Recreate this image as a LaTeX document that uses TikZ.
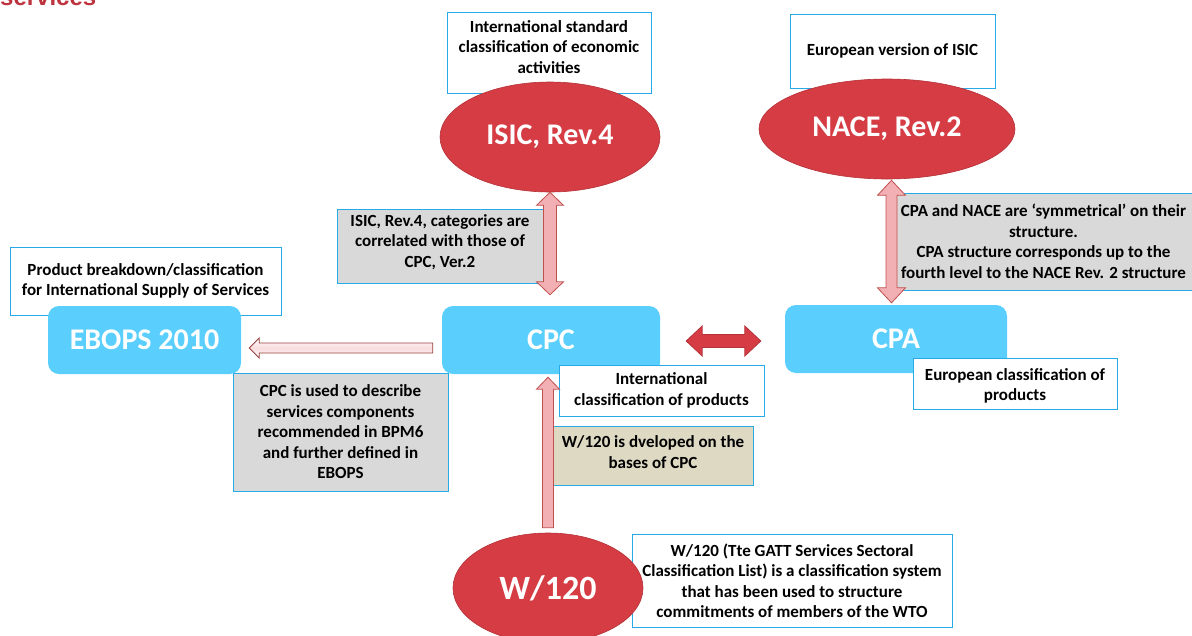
\documentclass[tikz,border=0pt]{standalone}
\usepackage{fontspec}
\setmainfont{Carlito}
\newfontfamily\headfont{Liberation Sans}
\usetikzlibrary{calc,shapes.geometric}

\definecolor{ellred}{RGB}{213,60,68}
\definecolor{ellredline}{RGB}{180,50,56}
\definecolor{cyanbox}{RGB}{90,207,253}
\definecolor{noteline}{RGB}{40,170,230}
\definecolor{notegray}{RGB}{217,217,217}
\definecolor{notetan}{RGB}{221,217,195}
\definecolor{arrowpink}{RGB}{242,176,180}
\definecolor{arrowline}{RGB}{192,80,77}
\definecolor{headred}{RGB}{190,52,62}

\tikzset{
  notefont/.style={font=\bfseries\fontsize{17}{20.5}\selectfont, align=center},
  note/.style={draw=noteline, line width=0.9pt, fill=white, inner sep=0pt, notefont},
  graynote/.style={note, fill=notegray},
  tannote/.style={note, fill=notetan},
  classbox/.style={fill=cyanbox, rounded corners=11pt, inner sep=0pt, text=white,
    font=\bfseries\fontsize{30}{36}\selectfont},
  classell/.style={ellipse, fill=ellred, draw=ellredline, line width=0.6pt, inner sep=0pt,
    text=white, font=\bfseries\fontsize{30}{36}\selectfont},
  pinkarrow/.style={fill=arrowpink, draw=arrowline, line width=0.8pt},
  redarrow/.style={fill=ellred, draw=ellredline, line width=0.8pt},
  hollowarrow/.style={draw=arrowline!80!black, line width=0.8pt,
    top color=white, bottom color=white, middle color=arrowpink!45},
}

% block arrows: #1 style, #2 first tip, #3 second tip/tail,
% #4 half shaft width, #5 half head width, #6 head length
\newcommand\vdoublearrow[6][]{%
  \draw[#1] let \p1=(#2), \p2=(#3) in
    (\x1,\y1) -- (\x1+#5,\y1-#6) -- (\x1+#4,\y1-#6) -- (\x1+#4,\y2+#6) -- (\x1+#5,\y2+#6)
    -- (\x1,\y2) -- (\x1-#5,\y2+#6) -- (\x1-#4,\y2+#6) -- (\x1-#4,\y1-#6) -- (\x1-#5,\y1-#6) -- cycle;}
\newcommand\hdoublearrow[6][]{%
  \draw[#1] let \p1=(#2), \p2=(#3) in
    (\x1,\y1) -- (\x1+#6,\y1+#5) -- (\x1+#6,\y1+#4) -- (\x2-#6,\y1+#4) -- (\x2-#6,\y1+#5)
    -- (\x2,\y1) -- (\x2-#6,\y1-#5) -- (\x2-#6,\y1-#4) -- (\x1+#6,\y1-#4) -- (\x1+#6,\y1-#5) -- cycle;}
\newcommand\uparrowshape[6][]{%
  \draw[#1] let \p1=(#2), \p2=(#3) in
    (\x1,\y1) -- (\x1+#5,\y1-#6) -- (\x1+#4,\y1-#6) -- (\x1+#4,\y2) -- (\x1-#4,\y2)
    -- (\x1-#4,\y1-#6) -- (\x1-#5,\y1-#6) -- cycle;}
\newcommand\leftarrowshape[6][]{%
  \draw[#1] let \p1=(#2), \p2=(#3) in
    (\x1,\y1) -- (\x1+#6,\y1+#5) -- (\x1+#6,\y1+#4) -- (\x2,\y1+#4) -- (\x2,\y1-#4)
    -- (\x1+#6,\y1-#4) -- (\x1+#6,\y1-#5) -- cycle;}

\begin{document}
\begin{tikzpicture}[x=1pt, y=-1pt]
\useasboundingbox (0,0) rectangle (1192,635);

% heading, cut by the top edge
\node[anchor=base west, inner sep=0pt, text=headred,
  font=\headfont\bfseries\fontsize{24}{28}\selectfont] (heading) at (0,5.5) {services};

% notes lying behind the classification shapes
\node[note, minimum width=204, minimum height=81] (isicNote) at (549,52.5) {};
\node[notefont] (isicNoteText) at (549,47) {International standard\\classification of economic\\activities};
\node[note, minimum width=205, minimum height=74] (naceNote) at (892.5,51) {European version of ISIC};
\node[note, minimum width=271, minimum height=68] (ebopsNote) at (145.5,281)
  {Product breakdown/classification\\for International Supply of Services};
\node[graynote, minimum width=215, minimum height=118] (cpcEbopsNote) at (340.5,432)
  {CPC is used to describe\\services components\\recommended in BPM6\\and further defined in\\EBOPS};
\node[note, minimum width=320, minimum height=93] (w120Note) at (792,580.5)
  {W/120 (Tte GATT Services Sectoral\\Classification List) is a classification system\\that has been used to structure\\commitments of members of the WTO};

% classifications
\node[classell, minimum width=220, minimum height=110] (isic) at (550,137) {ISIC, Rev.4};
\node[classell, minimum width=256, minimum height=100] (nace) at (887,129) {NACE, Rev.2};
\node[classbox, minimum width=193, minimum height=68] (ebops) at (144.5,340) {EBOPS 2010};
\node[classbox, minimum width=218, minimum height=68] (cpc) at (551,340) {CPC};
\node[classbox, minimum width=222, minimum height=68] (cpa) at (896,339) {CPA};
\node[classell, minimum width=190, minimum height=110, font=\bfseries\fontsize{34}{40}\selectfont]
  (w120) at (548,588) {W/120};

% notes on top
\node[graynote, minimum width=206, minimum height=74] (isicCpcNote) at (440,246) {};
\node[notefont] (isicCpcNoteText) at (440,242) {ISIC, Rev.4, categories are\\correlated with those of\\CPC, Ver.2};
\node[graynote, minimum width=297, minimum height=97] (cpaNaceNote) at (1043.5,241.5)
  {CPA and NACE are ‘symmetrical’ on their\\structure.\\CPA structure corresponds up to the\\fourth level to the NACE Rev. 2 structure};
\node[note, minimum width=205, minimum height=51] (cpcNote) at (661.5,390.5)
  {International\\classification of products};
\node[note, minimum width=204, minimum height=51] (cpaNote) at (1015,383.5) {};
\node[notefont] (cpaNoteText) at (1015,386) {European classification of\\products};
\node[tannote, minimum width=200, minimum height=59] (w120Dev) at (653,455.5) {};
\node[notefont] (w120DevText) at (653,452) {W/120 is dveloped on the\\bases of CPC};

% connector end points
\coordinate (isicTip) at (isic.south);
\coordinate (cpcTopTip) at ($(isic.south |- cpc.north)+(0,-11)$);
\coordinate (naceTip) at ($(nace.south)!0.5!(cpa.north |- nace.south)+(0,1)$);
\coordinate (cpaTopTip) at ($(naceTip |- cpa.north)+(0,-2)$);
\coordinate (ebopsTip) at ($(ebops.east)+(8,8)$);
\coordinate (cpcTail) at ($(cpc.west)+(-9,8)$);
\coordinate (cpcRight) at ($(cpc.east)+(26,1)$);
\coordinate (cpaLeft) at ($(cpa.west)+(-24,2)$);
\coordinate (cpcBottomTip) at ($(w120.north |- cpc.south)+(0,3)$);
\coordinate (w120Tail) at ($(w120.north)+(0,-5)$);

% connectors
\vdoublearrow[pinkarrow]{isicTip}{cpcTopTip}{6.5pt}{13.5pt}{13pt}
\vdoublearrow[pinkarrow]{naceTip}{cpaTopTip}{5.5pt}{14pt}{15pt}
\leftarrowshape[hollowarrow]{ebopsTip}{cpcTail}{5pt}{10pt}{10pt}
\hdoublearrow[redarrow]{cpcRight}{cpaLeft}{6.5pt}{15pt}{16pt}
\uparrowshape[pinkarrow]{cpcBottomTip}{w120Tail}{5.5pt}{11.5pt}{12pt}
\end{tikzpicture}
\end{document}
